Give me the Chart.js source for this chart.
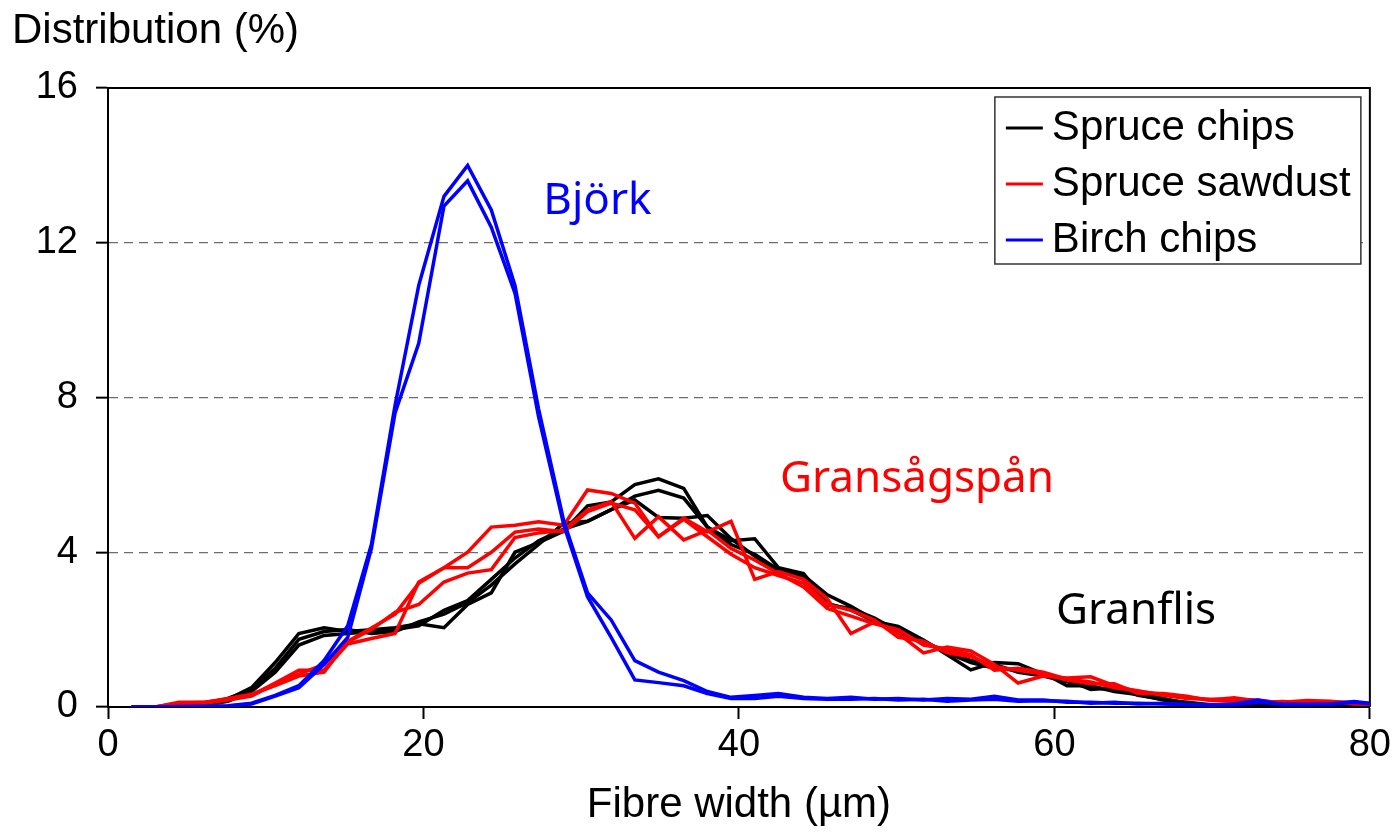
<!DOCTYPE html>
<html>
<head>
<meta charset="utf-8">
<title>Fibre width distribution</title>
<script src="https://cdn.jsdelivr.net/npm/chart.js@4.4.1/dist/chart.umd.min.js"></script>
<style>
  html, body { margin: 0; padding: 0; background: #fff; }
  #wrap { width: 1395px; height: 834px; }
</style>
</head>
<body>
<div id="wrap"><canvas id="fibreChart" width="1395" height="834"></canvas></div>
<script>
// fibre width classes (µm)
const widths = [1.5, 3.0, 4.5, 6.1, 7.6, 9.1, 10.6, 12.1, 13.7, 15.2, 16.7, 18.2, 19.7, 21.3,
    22.8, 24.3, 25.8, 27.3, 28.9, 30.4, 31.9, 33.4, 34.9, 36.5, 38.0, 39.5, 41.0, 42.5, 44.1,
    45.6, 47.1, 48.6, 50.1, 51.7, 53.2, 54.7, 56.2, 57.7, 59.3, 60.8, 62.3, 63.8, 65.3, 66.9,
    68.4, 69.9, 71.4, 72.9, 74.5, 76.0, 77.5, 79.0, 80.5];

// Spruce chips (Granflis), three replicates
const spruceChips1 = [0, 0, 0.03, 0.07, 0.2, 0.5, 1.15, 1.9, 2.05, 1.95, 2.0, 2.05, 2.15, 2.05,
    2.65, 2.95, 4.0, 4.25, 4.55, 5.2, 5.3, 5.75, 5.9, 5.65, 4.65, 4.3, 4.35, 3.6, 3.45, 2.68,
    2.51, 2.21, 2.08, 1.73, 1.35, 0.96, 1.15, 1.12, 0.85, 0.7, 0.45, 0.5, 0.3, 0.2, 0.08, 0.05,
    0.03, 0.03, 0.02, 0.02, 0.01, 0.01, 0];
const spruceChips2 = [0, 0, 0.02, 0.05, 0.15, 0.4, 0.9, 1.6, 1.85, 1.9, 1.95, 2.0, 2.1, 2.5,
    2.75, 3.3, 3.85, 4.3, 4.6, 4.8, 5.1, 5.45, 5.6, 5.4, 4.65, 4.2, 3.95, 3.55, 3.3, 2.64,
    2.55, 2.3, 1.95, 1.65, 1.45, 1.2, 1.1, 0.9, 0.8, 0.65, 0.5, 0.45, 0.35, 0.22, 0.1, 0.04,
    0.05, 0.03, 0.02, 0.01, 0.01, 0, 0];
const spruceChips3 = [0, 0, 0.03, 0.08, 0.22, 0.45, 1.0, 1.75, 1.95, 2.0, 1.9, 1.95, 2.2, 2.4,
    2.7, 3.15, 3.7, 4.2, 4.75, 4.8, 5.1, 5.35, 4.9, 4.88, 4.95, 4.35, 3.9, 3.5, 3.4, 2.9,
    2.6, 2.25, 2.0, 1.7, 1.4, 1.15, 1.0, 0.95, 0.88, 0.55, 0.55, 0.4, 0.32, 0.18, 0.12, 0.06,
    0.03, 0.03, 0.02, 0.01, 0.02, 0.01, 0];

// Spruce sawdust (Gransågspån), three replicates
const spruceSawdust1 = [0, 0, 0.1, 0.12, 0.2, 0.3, 0.62, 0.95, 0.95, 1.63, 1.77, 1.9, 3.23, 3.6,
    4.0, 4.65, 4.7, 4.79, 4.7, 5.61, 5.52, 5.27, 4.4, 4.88, 4.53, 4.8, 3.3, 3.5, 3.3, 2.8,
    1.9, 2.2, 1.9, 1.4, 1.55, 1.45, 1.1, 0.62, 0.8, 0.75, 0.78, 0.55, 0.4, 0.33, 0.25, 0.18,
    0.24, 0.15, 0.12, 0.17, 0.15, 0.1, 0.08];
const spruceSawdust2 = [0, 0, 0.08, 0.1, 0.18, 0.28, 0.6, 0.85, 1.1, 1.68, 2.0, 2.45, 2.65, 3.23,
    3.46, 3.55, 4.38, 4.5, 4.57, 5.09, 5.31, 4.36, 4.92, 4.32, 4.57, 4.1, 3.8, 3.45, 3.1, 2.55,
    2.35, 2.15, 2.0, 1.6, 1.5, 1.35, 0.95, 1.0, 0.9, 0.72, 0.65, 0.5, 0.42, 0.3, 0.22, 0.2,
    0.2, 0.18, 0.1, 0.12, 0.12, 0.12, 0.06];
const spruceSawdust3 = [0, 0, 0.12, 0.12, 0.22, 0.33, 0.55, 0.8, 0.9, 1.7, 2.04, 2.4, 3.2, 3.6,
    3.6, 4.0, 4.52, 4.6, 4.53, 5.05, 5.27, 5.1, 4.4, 4.85, 4.4, 3.95, 3.6, 3.4, 3.2, 2.65,
    2.5, 2.25, 1.8, 1.7, 1.4, 1.3, 1.05, 0.95, 0.85, 0.7, 0.6, 0.6, 0.35, 0.35, 0.28, 0.17,
    0.15, 0.12, 0.14, 0.1, 0.13, 0.08, 0.07];

// Birch chips (Björk), two replicates
const birchChips1 = [0, 0, 0.01, 0.02, 0.03, 0.1, 0.3, 0.55, 1.2, 2.1, 4.2, 7.8, 10.9, 13.2,
    14.0, 12.85, 10.9, 7.7, 4.8, 2.95, 2.25, 1.2, 0.9, 0.68, 0.4, 0.25, 0.3, 0.35, 0.25, 0.22,
    0.25, 0.2, 0.22, 0.18, 0.22, 0.2, 0.28, 0.18, 0.18, 0.12, 0.12, 0.1, 0.1, 0.08, 0.06, 0.05,
    0.08, 0.18, 0.06, 0.07, 0.08, 0.14, 0.08];
const birchChips2 = [0, 0, 0, 0.01, 0.02, 0.08, 0.28, 0.5, 1.1, 1.8, 4.1, 7.6, 9.4, 12.95,
    13.6, 12.4, 10.7, 7.5, 4.7, 2.85, 1.8, 0.7, 0.63, 0.55, 0.35, 0.22, 0.22, 0.28, 0.22, 0.2,
    0.2, 0.22, 0.18, 0.2, 0.15, 0.18, 0.2, 0.15, 0.16, 0.15, 0.1, 0.12, 0.08, 0.1, 0.07, 0.06,
    0.06, 0.12, 0.08, 0.06, 0.07, 0.12, 0.07];

const yTicks = [0, 4, 8, 12, 16];
const xTicks = [0, 20, 40, 60, 80];

// text labels placed next to the curves (data coordinates)
const curveNotes = [
    { text: 'Björk', x: 27.6, y: 12.75, color: '#0000ff' },
    { text: 'Gransågspån', x: 42.6, y: 5.55, color: '#ff0000' },
    { text: 'Granflis', x: 60.1, y: 2.15, color: '#000000' }
];

const axisFont = '"Liberation Sans", Arial, sans-serif';

function series(label, values, color, order) {
    return {
        label: label,
        data: values.map((v, i) => ({ x: widths[i], y: v })),
        borderColor: color,
        backgroundColor: color,
        borderWidth: 3.5,
        pointRadius: 0,
        tension: 0,
        fill: false,
        order: order
    };
}

const datasets = [
    series('Spruce chips', spruceChips1, '#000000', 3),
    series('Spruce chips', spruceChips2, '#000000', 3),
    series('Spruce chips', spruceChips3, '#000000', 3),
    series('Spruce sawdust', spruceSawdust1, '#ff0000', 2),
    series('Spruce sawdust', spruceSawdust2, '#ff0000', 2),
    series('Spruce sawdust', spruceSawdust3, '#ff0000', 2),
    series('Birch chips', birchChips1, '#0000ff', 1),
    series('Birch chips', birchChips2, '#0000ff', 1)
];

// frame, legend box, curve labels and the y axis title
const decorations = {
    id: 'decorations',
    beforeDatasetsDraw(chart) {
        const { ctx, chartArea: a } = chart;
        ctx.save();
        ctx.strokeStyle = '#000';
        ctx.lineWidth = 2;
        ctx.beginPath();
        ctx.moveTo(a.left, a.top);
        ctx.lineTo(a.right, a.top);
        ctx.lineTo(a.right, a.bottom);
        ctx.stroke();
        ctx.restore();
    },
    afterDraw(chart) {
        const { ctx, chartArea: a, scales } = chart;
        ctx.save();

        // y axis title, written horizontally above the axis
        ctx.fillStyle = '#000';
        ctx.font = '42px ' + axisFont;
        ctx.textAlign = 'left';
        ctx.textBaseline = 'alphabetic';
        ctx.fillText('Distribution (%)', 12, 43);

        // legend
        const seen = [];
        chart.data.datasets.forEach(ds => {
            if (!seen.find(s => s.label === ds.label)) seen.push(ds);
        });
        const boxW = 366, boxH = 167;
        const bx = a.right - 9 - boxW, by = a.top + 9;
        ctx.fillStyle = '#fff';
        ctx.fillRect(bx, by, boxW, boxH);
        ctx.strokeStyle = '#333';
        ctx.lineWidth = 1.5;
        ctx.strokeRect(bx, by, boxW, boxH);
        ctx.font = '42px ' + axisFont;
        ctx.textBaseline = 'middle';
        seen.forEach((ds, i) => {
            const y = by + 31 + i * 56;
            ctx.strokeStyle = ds.borderColor;
            ctx.lineWidth = 3;
            ctx.beginPath();
            ctx.moveTo(bx + 11, y);
            ctx.lineTo(bx + 48, y);
            ctx.stroke();
            ctx.fillStyle = '#000';
            ctx.fillText(ds.label, bx + 57, y);
        });

        // curve labels
        ctx.font = '44px "Noto Sans", "Open Sans", sans-serif';
        ctx.textBaseline = 'alphabetic';
        curveNotes.forEach(n => {
            ctx.fillStyle = n.color;
            ctx.fillText(n.text, scales.x.getPixelForValue(n.x), scales.y.getPixelForValue(n.y));
        });
        ctx.restore();
    }
};

const ctx = document.getElementById('fibreChart').getContext('2d');
const chart = new Chart(ctx, {
    type: 'line',
    data: { datasets: datasets },
    plugins: [decorations],
    options: {
        responsive: false,
        animation: false,
        devicePixelRatio: 1,
        layout: { padding: { top: 88, right: 25, left: 0, bottom: 0 } },
        plugins: {
            legend: { display: false },
            tooltip: { enabled: false }
        },
        scales: {
            x: {
                type: 'linear',
                min: 0,
                max: 80,
                afterFit: s => { s.height = 127; },
                afterBuildTicks: s => { s.ticks = xTicks.map(v => ({ value: v })); },
                ticks: {
                    color: '#000',
                    padding: 4,
                    maxRotation: 0,
                    font: { family: axisFont, size: 38 }
                },
                grid: {
                    drawOnChartArea: false,
                    tickLength: 12,
                    tickWidth: 2,
                    tickColor: '#000'
                },
                border: { color: '#000', width: 2 },
                title: {
                    display: true,
                    text: 'Fibre width (µm)',
                    color: '#000',
                    font: { family: axisFont, size: 42 },
                    padding: { top: 0, bottom: 3 }
                }
            },
            y: {
                min: 0,
                max: 16,
                afterFit: s => { s.width = 108; },
                afterBuildTicks: s => { s.ticks = yTicks.map(v => ({ value: v })); },
                ticks: {
                    color: '#000',
                    padding: 18,
                    font: { family: axisFont, size: 38 }
                },
                grid: {
                    color: c => (c.tick && c.tick.value > 0 && c.tick.value < 16) ? '#6e6e6e' : 'rgba(0,0,0,0)',
                    lineWidth: 1.3,
                    tickLength: 12,
                    tickWidth: 2,
                    tickColor: '#000'
                },
                border: { color: '#000', width: 2, dash: [9, 6] }
            }
        }
    }
});
</script>
</body>
</html>
